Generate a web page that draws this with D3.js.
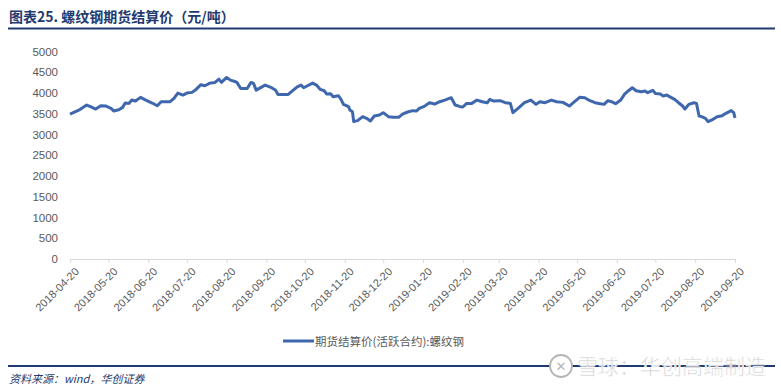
<!DOCTYPE html>
<html>
<head>
<meta charset="utf-8">
<script src="https://cdn.jsdelivr.net/npm/d3@7"></script>
<style>
  body { margin: 0; background: #fff; }
  svg { display: block; }
</style>
</head>
<body>
<svg id="chart"></svg>
<script>
// dates de cotation
const dates = [
  "2018-04-20","2018-04-26","2018-04-28","2018-05-03","2018-05-06","2018-05-10","2018-05-14","2018-05-18",
  "2018-05-22","2018-05-24","2018-05-28","2018-05-31","2018-06-02","2018-06-05","2018-06-07","2018-06-10",
  "2018-06-14","2018-06-18","2018-06-23","2018-06-27","2018-06-30","2018-07-03","2018-07-07","2018-07-10",
  "2018-07-13","2018-07-17","2018-07-20","2018-07-24","2018-07-27","2018-07-31","2018-08-03","2018-08-07",
  "2018-08-11","2018-08-14","2018-08-16","2018-08-20","2018-08-23","2018-08-27","2018-08-28","2018-08-31",
  "2018-09-05","2018-09-08","2018-09-10","2018-09-12","2018-09-19","2018-09-24","2018-09-27","2018-09-29",
  "2018-10-07","2018-10-10","2018-10-14","2018-10-17","2018-10-19","2018-10-22","2018-10-26","2018-10-29",
  "2018-11-01","2018-11-04","2018-11-06","2018-11-09","2018-11-11","2018-11-15","2018-11-17","2018-11-19",
  "2018-11-23","2018-11-24","2018-11-26","2018-11-27","2018-11-30","2018-12-04","2018-12-07","2018-12-10",
  "2018-12-13","2018-12-17","2018-12-20","2018-12-24","2018-12-28","2019-01-01","2019-01-04","2019-01-08",
  "2019-01-12","2019-01-15","2019-01-17","2019-01-21","2019-01-25","2019-01-29","2019-02-02","2019-02-06",
  "2019-02-11","2019-02-14","2019-02-18","2019-02-20","2019-02-23","2019-02-27","2019-03-03","2019-03-07",
  "2019-03-11","2019-03-13","2019-03-16","2019-03-21","2019-03-25","2019-03-29","2019-03-31","2019-04-04",
  "2019-04-09","2019-04-14","2019-04-18","2019-04-21","2019-04-25","2019-04-30","2019-05-04","2019-05-09",
  "2019-05-14","2019-05-18","2019-05-22","2019-05-26","2019-05-30","2019-06-03","2019-06-07","2019-06-10",
  "2019-06-13","2019-06-16","2019-06-19","2019-06-23","2019-06-26","2019-06-29","2019-07-02","2019-07-05",
  "2019-07-09","2019-07-12","2019-07-14","2019-07-18","2019-07-20","2019-07-24","2019-07-26","2019-07-29",
  "2019-07-31","2019-08-04","2019-08-07","2019-08-10","2019-08-12","2019-08-15","2019-08-19","2019-08-21",
  "2019-08-23","2019-08-25","2019-08-28","2019-08-30","2019-09-02","2019-09-06","2019-09-10","2019-09-13",
  "2019-09-17","2019-09-19","2019-09-20"
];

// prix de règlement (元/吨)
const prices = [
  3490,3575,3606,3710,3670,3613,3693,3685,
  3630,3566,3598,3654,3758,3750,3830,3806,
  3895,3830,3758,3693,3790,3790,3790,3870,
  3998,3950,3998,4015,4080,4200,4175,4238,
  4255,4335,4255,4375,4310,4270,4255,4110,
  4110,4255,4230,4070,4190,4127,4070,3966,
  3966,4046,4150,4190,4127,4175,4238,4190,
  4086,4055,3974,3983,3911,3935,3854,3726,
  3670,3590,3550,3310,3334,3430,3390,3325,
  3445,3470,3526,3430,3414,3414,3490,3542,
  3575,3566,3630,3678,3766,3734,3790,3830,
  3887,3710,3670,3662,3750,3750,3830,3790,
  3766,3846,3806,3815,3766,3750,3526,3630,
  3766,3830,3726,3790,3766,3830,3790,3774,
  3686,3790,3895,3887,3815,3766,3742,3726,
  3815,3790,3742,3830,3974,4055,4127,4055,
  4031,4046,4007,4063,3990,3974,3926,3950,
  3911,3846,3766,3693,3613,3726,3766,3750,
  3445,3430,3390,3310,3350,3430,3454,3510,
  3575,3526,3400
];

const yTicks = [0, 500, 1000, 1500, 2000, 2500, 3000, 3500, 4000, 4500, 5000];
const xTickLabels = [
  "2018-04-20","2018-05-20","2018-06-20","2018-07-20","2018-08-20","2018-09-20",
  "2018-10-20","2018-11-20","2018-12-20","2019-01-20","2019-02-20","2019-03-20",
  "2019-04-20","2019-05-20","2019-06-20","2019-07-20","2019-08-20","2019-09-20"
];

const seriesName = "期货结算价(活跃合约):螺纹钢";
const title = "图表25.  螺纹钢期货结算价（元/吨）";
const source = "资料来源：wind，华创证券";

const width = 781, height = 392;
const navy = "#1f3a70";
const lineColor = "#3f67ad";
const textGray = "#595959";

const parse = d3.timeParse("%Y-%m-%d");
const data = dates.map((d, i) => ({ date: parse(d), value: prices[i] }));

const svg = d3.select("#chart")
  .attr("width", width)
  .attr("height", height);

// titre
svg.append("text")
  .attr("x", 9)
  .attr("y", 22)
  .attr("font-family", "'Noto Sans CJK SC', sans-serif")
  .attr("font-weight", "bold")
  .attr("font-size", "14px")
  .attr("fill", navy)
  .text(title);

svg.append("line")
  .attr("x1", 8).attr("x2", 775)
  .attr("y1", 28.5).attr("y2", 28.5)
  .attr("stroke", navy)
  .attr("stroke-width", 2);

// échelles
const x = d3.scaleTime()
  .domain([parse(xTickLabels[0]), parse(xTickLabels[xTickLabels.length - 1])])
  .range([70, 735]);

const y = d3.scaleLinear()
  .domain([0, 5000])
  .range([259, 51.5]);

// axe Y (sans ligne)
const yAxis = svg.append("g")
  .attr("transform", "translate(62,0)")
  .call(d3.axisLeft(y).tickValues(yTicks).tickFormat(d3.format("d")).tickSize(0).tickPadding(4));
yAxis.select(".domain").remove();
yAxis.selectAll("text")
  .attr("font-family", "'Liberation Sans', Arial, sans-serif")
  .attr("font-size", "11.5px")
  .attr("fill", textGray);

// axe X
const xAxis = svg.append("g")
  .attr("transform", `translate(0,${y(0)})`)
  .call(d3.axisBottom(x)
    .tickValues(xTickLabels.map(parse))
    .tickFormat(d3.timeFormat("%Y-%m-%d"))
    .tickSize(4)
    .tickSizeOuter(0));
xAxis.select(".domain").attr("stroke", "#d9d9d9");
xAxis.selectAll(".tick line").attr("stroke", "#d9d9d9");
xAxis.selectAll("text")
  .attr("font-family", "'Liberation Sans', Arial, sans-serif")
  .attr("font-size", "11px")
  .attr("fill", textGray)
  .attr("text-anchor", "end")
  .attr("dy", "0.3em")
  .attr("transform", "translate(2,6) rotate(-45)");

// courbe
const line = d3.line()
  .x(d => x(d.date))
  .y(d => y(d.value));

svg.append("path")
  .datum(data)
  .attr("fill", "none")
  .attr("stroke", lineColor)
  .attr("stroke-width", 3)
  .attr("stroke-linejoin", "round")
  .attr("d", line);

// légende
svg.append("line")
  .attr("x1", 283).attr("x2", 314)
  .attr("y1", 341).attr("y2", 341)
  .attr("stroke", lineColor)
  .attr("stroke-width", 3);

svg.append("text")
  .attr("x", 315)
  .attr("y", 345.5)
  .attr("font-family", "'Noto Sans CJK SC', sans-serif")
  .attr("font-size", "11.5px")
  .attr("fill", textGray)
  .text(seriesName);

// bas de page
svg.append("line")
  .attr("x1", 8).attr("x2", 775)
  .attr("y1", 366).attr("y2", 366)
  .attr("stroke", navy)
  .attr("stroke-width", 2);

svg.append("text")
  .attr("x", 9)
  .attr("y", 383)
  .attr("font-family", "'Noto Sans CJK SC', sans-serif")
  .attr("font-style", "italic")
  .attr("font-size", "11px")
  .attr("fill", navy)
  .text(source);

// filigrane
const wm = svg.append("g");
wm.append("circle")
  .attr("cx", 561).attr("cy", 366).attr("r", 11)
  .attr("fill", "#fff")
  .attr("stroke", "#b5b5b5")
  .attr("stroke-width", 1.8);
wm.append("text")
  .attr("x", 561).attr("y", 371)
  .attr("text-anchor", "middle")
  .attr("font-family", "'DejaVu Sans', sans-serif")
  .attr("font-size", "13px")
  .attr("fill", "#b5b5b5")
  .text("✕");
wm.append("text")
  .attr("x", 577)
  .attr("y", 374)
  .attr("font-family", "'Noto Sans CJK SC', sans-serif")
  .attr("font-size", "21px")
  .attr("fill", "#d2d2d2")
  .attr("stroke", "#fff")
  .attr("stroke-width", 0.6)
  .text("雪球：华创高端制造");
</script>
</body>
</html>
